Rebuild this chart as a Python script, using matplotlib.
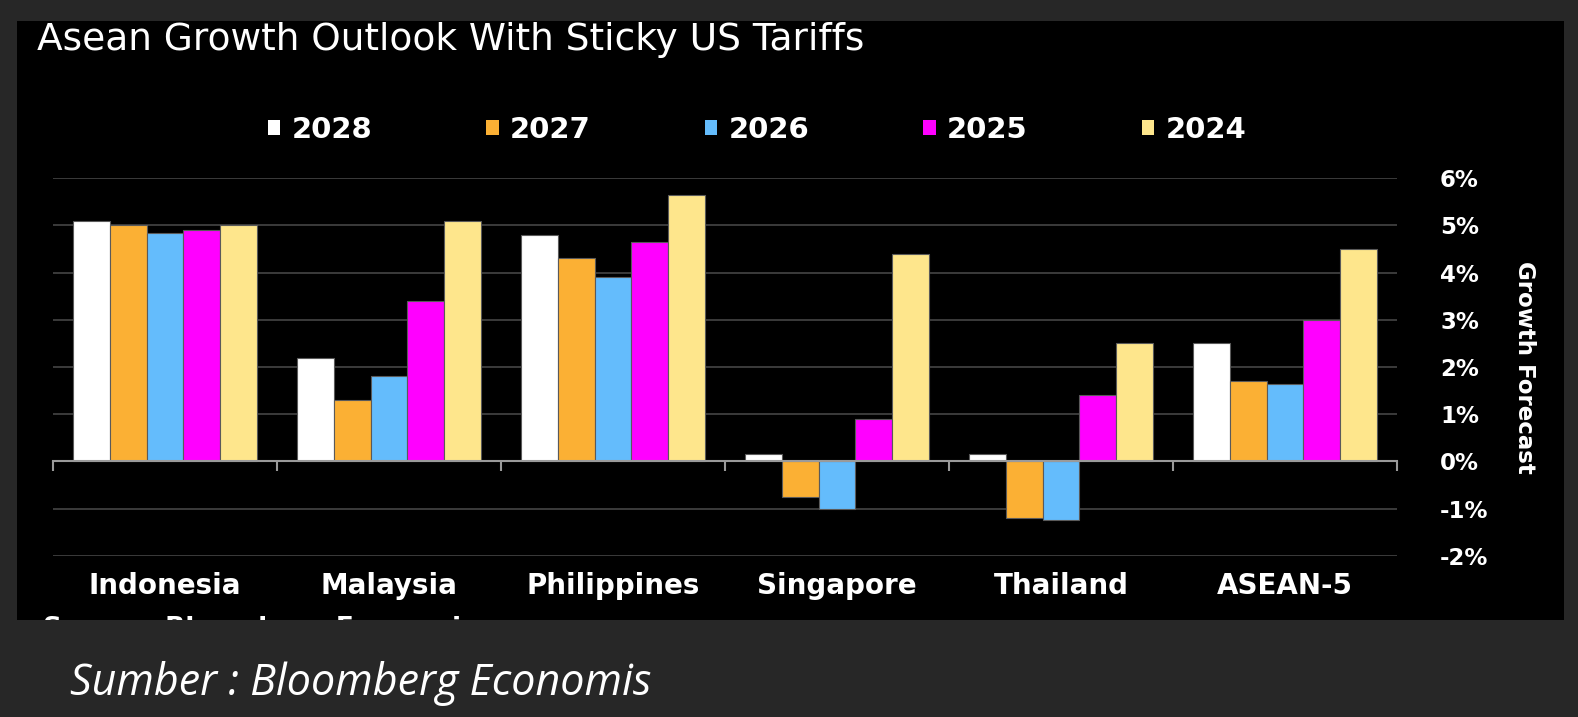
import numpy as np
import matplotlib
matplotlib.use("Agg")
import matplotlib.pyplot as plt
from matplotlib.patches import Rectangle, Patch

countries = ["Indonesia", "Malaysia", "Philippines", "Singapore", "Thailand", "ASEAN-5"]
years = ["2028", "2027", "2026", "2025", "2024"]
g2028 = [5.1, 2.2, 4.8, 0.15, 0.15, 2.5]
g2027 = [5.0, 1.3, 4.3, -0.75, -1.2, 1.7]
g2026 = [4.85, 1.8, 3.9, -1.0, -1.25, 1.65]
g2025 = [4.9, 3.4, 4.65, 0.9, 1.4, 3.0]
g2024 = [5.0, 5.1, 5.65, 4.4, 2.5, 4.5]
yticks = [-2, -1, 0, 1, 2, 3, 4, 5, 6]

series = [g2028, g2027, g2026, g2025, g2024]
colors = ["#ffffff", "#fbb034", "#64bcfc", "#ff00ff", "#fee68c"]

W, H = 1578, 717
fig = plt.figure(figsize=(W / 100, H / 100), dpi=100, facecolor="#272727")

# black chart panel (behind the axes)
panel = Rectangle((17 / W, 1 - 620 / H), (1564 - 17) / W, (620 - 21) / H,
                  transform=fig.transFigure, facecolor="black", edgecolor="none", zorder=-5)
fig.patches.append(panel)

ax = fig.add_axes([53 / W, 1 - 555.7 / H, (1397 - 53) / W, (555.7 - 178.3) / H])
ax.set_facecolor("black")

x = np.arange(len(countries))
bw = 0.165
for i, (vals, col, yr) in enumerate(zip(series, colors, years)):
    ax.bar(x + (i - 2) * bw, vals, bw, color=col, edgecolor="#5a5a5a", linewidth=0.8,
           label=yr, zorder=3)

ax.set_xlim(-0.5, len(countries) - 0.5)
ax.set_ylim(-2, 6)
ax.set_yticks(yticks)
ax.set_yticklabels([f"{t}%" for t in yticks])
ax.yaxis.tick_right()
ax.yaxis.set_label_position("right")
ax.tick_params(axis="y", length=0, pad=31, labelsize=16.5, labelcolor="white")
for lab in ax.get_yticklabels():
    lab.set_fontweight("bold")
    lab.set_horizontalalignment("left")
ax.grid(axis="y", color="#454545", linewidth=1.2, zorder=0)
ax.set_ylabel("Growth Forecast", rotation=270, color="white", fontsize=16.5,
              fontweight="bold", labelpad=34)

for s in ax.spines.values():
    s.set_visible(False)

# zero line with group separators
ax.spines["bottom"].set_visible(True)
ax.spines["bottom"].set_position(("data", 0))
ax.spines["bottom"].set_color("#9a9a9a")
ax.spines["bottom"].set_linewidth(1.5)
ax.spines["bottom"].set_zorder(4)
ax.set_xticks(np.arange(-0.5, len(countries)), minor=True)
ax.set_xticks(x)
ax.set_xticklabels([])
ax.tick_params(axis="x", which="major", length=0)
ax.tick_params(axis="x", which="minor", length=7, width=1.5, color="#9a9a9a", direction="out")

# category labels under the plot
sec = ax.secondary_xaxis(0.0)
sec.set_xticks(x)
sec.set_xticklabels(countries)
sec.tick_params(length=0, pad=12, labelsize=20, labelcolor="white")
for lab in sec.get_xticklabels():
    lab.set_fontweight("bold")
sec.spines["bottom"].set_visible(False)

fig.text(37 / W, 1 - 40 / H, "Asean Growth Outlook With Sticky US Tariffs", color="white",
         fontsize=27, va="center", ha="left")

handles = [Patch(facecolor=c, edgecolor="none") for c in colors]
fig.legend(handles, years, loc="center left", bbox_to_anchor=(268 / W, 1 - 130 / H),
           ncol=5, frameon=False, handlelength=0.42, handleheight=0.42, handletextpad=0.4,
           columnspacing=3.9, borderpad=0, borderaxespad=0,
           prop={"size": 21, "weight": "bold"}, labelcolor="white")

# source line of the original chart, cut off by the panel edge
src = fig.text(43 / W, 1 - 616 / H, "Source: Bloomberg Economics", color="white",
               fontsize=19, fontweight="bold", va="top", ha="left")
src.set_clip_path(panel)

fig.text(70 / W, 1 - 683 / H, "Sumber : Bloomberg Economis", color="white",
         fontsize=31, fontstyle="italic", family="Open Sans", va="center", ha="left")

fig.savefig("out.png", dpi=100, facecolor=fig.get_facecolor())
